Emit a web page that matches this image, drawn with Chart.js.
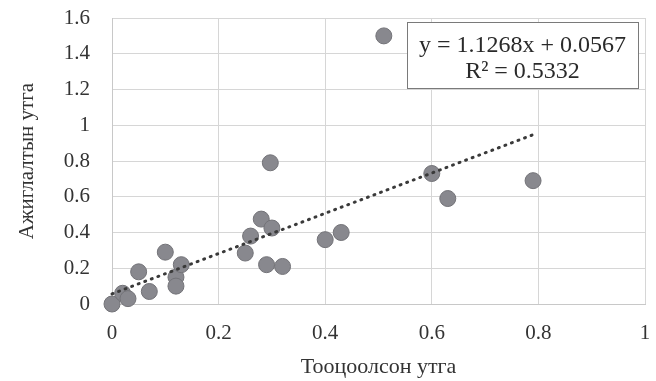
<!DOCTYPE html>
<html>
<head>
<meta charset="utf-8">
<script src="https://cdn.jsdelivr.net/npm/chart.js@4/dist/chart.umd.min.js"></script>
<style>
  html, body { margin: 0; padding: 0; background: #fff; }
  #wrap { width: 656px; height: 381px; }
</style>
</head>
<body>
<div id="wrap"><canvas id="grafico" width="656" height="381"></canvas></div>
<script>
// Тооцоолсон утга (x) ба ажиглалтын утга (y)
const tooTsoolson = [0, 0.02, 0.03, 0.05, 0.07, 0.10, 0.12, 0.12, 0.13, 0.25, 0.26, 0.28, 0.29, 0.30, 0.297, 0.32, 0.40, 0.43, 0.51, 0.60, 0.63, 0.79];
const ajiglalt   = [0, 0.06, 0.03, 0.18, 0.07, 0.29, 0.15, 0.10, 0.22, 0.285, 0.38, 0.475, 0.22, 0.425, 0.79, 0.21, 0.36, 0.40, 1.50, 0.73, 0.59, 0.69];

const trendSlope = 1.1268;
const trendIntercept = 0.0567;
const trendX = [0, 0.79];
const equationLines = ['y = 1.1268x + 0.0567', 'R² = 0.5332'];

const xTicks = [0, 0.2, 0.4, 0.6, 0.8, 1];
const yTicks = [0, 0.2, 0.4, 0.6, 0.8, 1, 1.2, 1.4, 1.6];

const serif = '"Liberation Serif", "DejaVu Serif", serif';

const puntos = tooTsoolson.map((x, i) => ({ x: x, y: ajiglalt[i] }));
const trend = trendX.map(x => ({ x: x, y: trendSlope * x + trendIntercept }));

const equationBox = {
    id: 'equationBox',
    afterDraw(chart) {
        const ctx = chart.ctx;
        const a = chart.chartArea;
        const w = 231, h = 66;
        const x0 = a.right - 7 - w, y0 = a.top + 4;
        ctx.save();
        ctx.fillStyle = '#fff';
        ctx.fillRect(x0, y0, w, h);
        ctx.strokeStyle = '#7a7a7a';
        ctx.lineWidth = 1;
        ctx.strokeRect(x0 + 0.5, y0 + 0.5, w, h);
        ctx.fillStyle = '#2a2a2a';
        ctx.font = '24px ' + serif;
        ctx.textAlign = 'center';
        ctx.textBaseline = 'middle';
        ctx.fillText(equationLines[0], x0 + w / 2, y0 + 24);
        ctx.fillText(equationLines[1], x0 + w / 2, y0 + 50);
        ctx.restore();
    }
};

new Chart(document.getElementById('grafico'), {
    type: 'scatter',
    data: {
        datasets: [{
            data: trend,
            showLine: true,
            borderColor: '#3a3a3a',
            borderWidth: 3,
            borderDash: [1, 6],
            borderCapStyle: 'round',
            pointRadius: 0,
            fill: false,
            clip: false
        }, {
            data: puntos,
            backgroundColor: '#88888e',
            borderColor: '#737378',
            borderWidth: 1,
            pointRadius: 8,
            pointHoverRadius: 8,
            clip: false
        }]
    },
    options: {
        responsive: false,
        animation: false,
        devicePixelRatio: 1,
        layout: { padding: { top: 18, right: 11, left: 0, bottom: 0 } },
        plugins: {
            legend: { display: false },
            tooltip: { enabled: false }
        },
        scales: {
            x: {
                type: 'linear',
                min: 0,
                max: 1,
                afterFit: s => {
                    s.height = 77;
                    s.paddingLeft = 0;
                    s.paddingRight = 0;
                },
                afterBuildTicks: s => { s.ticks = xTicks.map(v => ({ value: v })); },
                grid: { color: '#d6d6d6', drawTicks: false },
                border: { color: '#c8c8c8' },
                ticks: {
                    color: '#333',
                    padding: 17,
                    font: { family: serif, size: 21 },
                    callback: v => String(v)
                },
                title: {
                    display: true,
                    text: 'Тооцоолсон утга',
                    color: '#333',
                    font: { family: serif, size: 22 },
                    padding: { top: 0, bottom: 1 }
                }
            },
            y: {
                type: 'linear',
                min: 0,
                max: 1.6,
                afterFit: s => {
                    s.width = 112;
                    s.paddingTop = 0;
                    s.paddingBottom = 0;
                },
                afterBuildTicks: s => { s.ticks = yTicks.map(v => ({ value: v })); },
                grid: { color: '#d6d6d6', drawTicks: false },
                border: { color: '#c8c8c8' },
                ticks: {
                    color: '#333',
                    padding: 22,
                    font: { family: serif, size: 21 },
                    callback: v => String(v)
                },
                title: {
                    display: true,
                    text: 'Ажиглалтын утга',
                    color: '#333',
                    font: { family: serif, size: 21 },
                    padding: { top: 15, bottom: 0 }
                }
            }
        }
    },
    plugins: [equationBox]
});
</script>
</body>
</html>
